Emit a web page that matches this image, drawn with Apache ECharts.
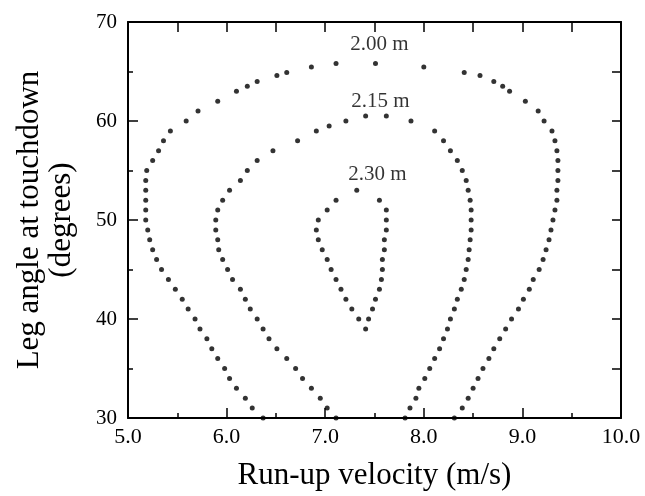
<!DOCTYPE html>
<html>
<head>
<meta charset="utf-8">
<script src="https://cdn.jsdelivr.net/npm/echarts@6/dist/echarts.min.js"></script>
<style>
  html, body { margin: 0; padding: 0; background: #fff; }
  #container { width: 645px; height: 496px; }
</style>
</head>
<body>
<div id="container"></div>
<script>
// contour 2.00 m (outer)
var vel200 = [6.37, 6.26, 6.19, 6.10, 6.03, 5.98, 5.91, 5.85, 5.80, 5.73, 5.68, 5.61, 5.55, 5.48, 5.41, 5.34, 5.29, 5.25, 5.22, 5.20,
  5.18, 5.18, 5.18, 5.18, 5.18, 5.19, 5.25, 5.31, 5.36, 5.43, 5.59, 5.71, 5.91, 6.10, 6.21, 6.31, 6.51, 6.61, 6.86, 7.11,
  7.51, 8.00, 8.41, 8.57, 8.71, 8.80, 8.87, 9.03, 9.16, 9.22, 9.30, 9.33, 9.35, 9.36, 9.36, 9.36, 9.35, 9.35, 9.33, 9.31,
  9.29, 9.27, 9.24, 9.21, 9.17, 9.11, 9.07, 9.01, 8.96, 8.89, 8.83, 8.77, 8.71, 8.66, 8.60, 8.55, 8.50, 8.45, 8.39, 8.31];
var ang200 = [30, 31, 32, 33, 34, 35, 36, 37, 38, 39, 40, 41, 42, 43, 44, 45, 46, 47, 48, 49,
  50, 51, 52, 53, 54, 55, 56, 57, 58, 59, 60, 61, 62, 63, 63.5, 64, 64.6, 64.9, 65.45, 65.8,
  65.8, 65.45, 64.9, 64.6, 64, 63.5, 63, 62, 61, 60, 59, 58, 57, 56, 55, 54, 53, 52, 51, 50,
  49, 48, 47, 46, 45, 44, 43, 42, 41, 40, 39, 38, 37, 36, 35, 34, 33, 32, 31, 30];

// contour 2.15 m
var vel215 = [7.11, 7.02, 6.95, 6.86, 6.77, 6.70, 6.61, 6.51, 6.43, 6.37, 6.31, 6.24, 6.19, 6.14, 6.06, 6.01, 5.96, 5.92, 5.91, 5.89,
  5.89, 5.91, 5.96, 6.03, 6.14, 6.21, 6.31, 6.47, 6.72, 6.91, 7.04, 7.21, 7.41,
  7.62, 7.87, 8.11, 8.20, 8.27, 8.34, 8.39, 8.43, 8.45, 8.47, 8.48, 8.48, 8.48, 8.47, 8.46, 8.45, 8.43, 8.41, 8.38, 8.34,
  8.31, 8.27, 8.24, 8.20, 8.16, 8.11, 8.06, 8.01, 7.95, 7.92, 7.86, 7.81];
var ang215 = [30, 31, 32, 33, 34, 35, 36, 37, 38, 39, 40, 41, 42, 43, 44, 45, 46, 47, 48, 49,
  50, 51, 52, 53, 54, 55, 56, 57, 58, 59, 59.5, 60, 60.5,
  60.5, 60, 59, 58, 57, 56, 55, 54, 53, 52, 51, 50, 49, 48, 47, 46, 45, 44, 43, 42,
  41, 40, 39, 38, 37, 36, 35, 34, 33, 32, 31, 30];

// contour 2.30 m (inner)
var vel230 = [7.41, 7.34, 7.27, 7.21, 7.16, 7.11, 7.06, 7.02, 6.97, 6.93, 6.91, 6.93, 7.02, 7.11, 7.32,
  7.55, 7.62, 7.62, 7.62, 7.60, 7.60, 7.58, 7.58, 7.57, 7.55, 7.51, 7.48, 7.44];
var ang230 = [39, 40, 41, 42, 43, 44, 45, 46, 47, 48, 49, 50, 51, 52, 53,
  52, 51, 50, 49, 48, 47, 46, 45, 44, 43, 42, 41, 40];

// contour labels
var labelText = ['2.00 m', '2.15 m', '2.30 m'];
var labelVel = [7.55, 7.56, 7.53];
var labelAng = [67.7, 62.0, 54.6];

var font = "'Liberation Serif', 'Times New Roman', serif";

function pairs(xs, ys) {
  return xs.map(function (x, i) { return [x, ys[i]]; });
}

var chartDom = document.getElementById('container');
var myChart = echarts.init(chartDom);
var option;

var axisLineStyle = { color: '#000', width: 2 };
var tickStyle = { color: '#000', width: 1.5 };

var dotSeries = [pairs(vel200, ang200), pairs(vel215, ang215), pairs(vel230, ang230)].map(function (d) {
  return {
    type: 'scatter',
    data: d,
    symbol: 'circle',
    symbolSize: 5,
    itemStyle: { color: '#000' },
    silent: true
  };
});

option = {
  animation: false,
  backgroundColor: '#fff',
  grid: { left: 128, right: 24, top: 22, bottom: 78 },
  xAxis: [
    {
      type: 'value', min: 5, max: 10, interval: 1, position: 'bottom',
      axisLine: { onZero: false, lineStyle: axisLineStyle },
      axisTick: { inside: true, length: 10, lineStyle: tickStyle },
      minorTick: { show: true, splitNumber: 2, length: 5, lineStyle: tickStyle },
      splitLine: { show: false },
      axisLabel: {
        formatter: function (v) { return v.toFixed(1); },
        color: '#000', fontFamily: font, fontSize: 22, margin: 8
      },
      name: 'Run-up velocity (m/s)',
      nameLocation: 'middle',
      nameGap: 42,
      nameTextStyle: { color: '#000', fontFamily: font, fontSize: 31 }
    },
    {
      type: 'value', min: 5, max: 10, interval: 0.5, position: 'top',
      axisLine: { onZero: false, lineStyle: axisLineStyle },
      axisTick: { inside: true, length: 10, lineStyle: tickStyle },
      splitLine: { show: false },
      axisLabel: { show: false }
    }
  ],
  yAxis: [
    {
      type: 'value', min: 30, max: 70, interval: 10, position: 'left',
      axisLine: { onZero: false, lineStyle: axisLineStyle },
      axisTick: { inside: true, length: 10, lineStyle: tickStyle },
      minorTick: { show: true, splitNumber: 2, length: 5, lineStyle: tickStyle },
      splitLine: { show: false },
      axisLabel: { color: '#000', fontFamily: font, fontSize: 21, margin: 11 },
      name: 'Leg angle at touchdown\n(degrees)',
      nameLocation: 'middle',
      nameRotate: 90,
      nameGap: 50,
      nameTextStyle: { color: '#000', fontFamily: font, fontSize: 31, lineHeight: 32 }
    },
    {
      type: 'value', min: 30, max: 70, interval: 5, position: 'right',
      axisLine: { onZero: false, lineStyle: axisLineStyle },
      axisTick: { inside: true, length: 9, lineStyle: tickStyle },
      splitLine: { show: false },
      axisLabel: { show: false }
    }
  ],
  series: dotSeries.concat([{
    type: 'scatter',
    symbolSize: 0,
    silent: true,
    data: labelText.map(function (t, i) {
      return { name: t, value: [labelVel[i], labelAng[i]] };
    }),
    label: {
      show: true,
      position: 'inside',
      formatter: '{b}',
      color: '#000',
      fontFamily: font,
      fontSize: 21
    }
  }])
};

option && myChart.setOption(option);
</script>
</body>
</html>
